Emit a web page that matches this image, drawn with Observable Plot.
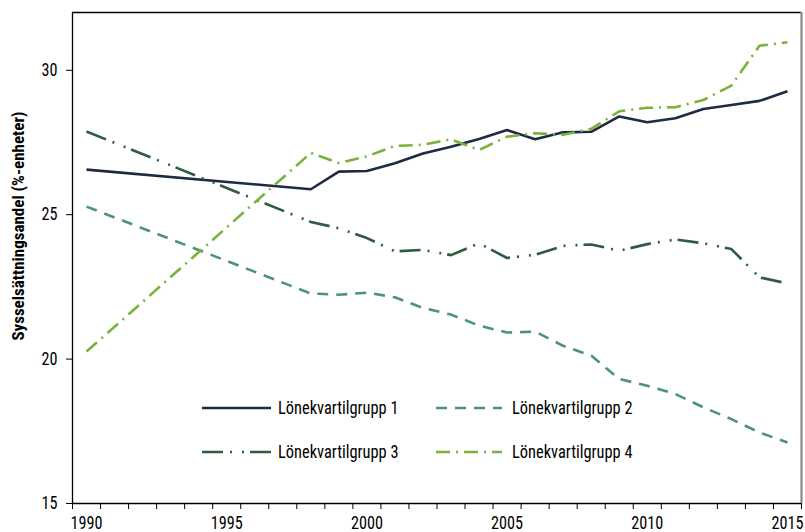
<!DOCTYPE html>
<html>
<head>
<meta charset="utf-8">
<script src="https://cdn.jsdelivr.net/npm/d3@7"></script>
<script src="https://cdn.jsdelivr.net/npm/@observablehq/plot@0.6"></script>
<style>
  html, body { margin: 0; padding: 0; background: #fff; }
  #wrap { position: relative; width: 805px; height: 532px; }
  #wrap svg { position: absolute; left: 0; top: 0; }
</style>
</head>
<body>
<div id="wrap"></div>
<script>
const years = [1990, 1998, 1999, 2000, 2001, 2002, 2003, 2004, 2005, 2006, 2007, 2008, 2009, 2010, 2011, 2012, 2013, 2014, 2015];
const g1 = [26.56, 25.88, 26.49, 26.51, 26.78, 27.12, 27.35, 27.62, 27.93, 27.61, 27.85, 27.87, 28.40, 28.20, 28.34, 28.66, 28.80, 28.94, 29.27];
const g2 = [25.28, 22.27, 22.23, 22.30, 22.14, 21.77, 21.54, 21.16, 20.92, 20.95, 20.46, 20.12, 19.31, 19.08, 18.79, 18.33, 17.92, 17.46, 17.11];
const g3 = [27.88, 24.75, 24.53, 24.19, 23.73, 23.78, 23.60, 24.01, 23.50, 23.61, 23.92, 23.97, 23.75, 23.98, 24.14, 24.01, 23.81, 22.83, 22.62];
const g4 = [20.26, 27.14, 26.79, 27.02, 27.38, 27.42, 27.61, 27.24, 27.70, 27.82, 27.77, 27.97, 28.58, 28.70, 28.72, 28.97, 29.47, 30.85, 30.97];
const groupNames = ["Lönekvartilgrupp 1", "Lönekvartilgrupp 2", "Lönekvartilgrupp 3", "Lönekvartilgrupp 4"];
const xTickLabels = [1990, 1995, 2000, 2005, 2010, 2015];
const yTickLabels = [15, 20, 25, 30];
const yTitle = "Sysselsättningsandel (%-enheter)";

const colors = ["#1e2a44", "#4d9374", "#2f5b3e", "#79b33a"];
const dashes = [null, "11,8", "21,7,2,10,2,6", "14,6,2,6"];
const series = [g1, g2, g3, g4];

const FONT = '"Roboto Condensed", "Liberation Sans Narrow", "DejaVu Sans Condensed", sans-serif';

const data = [];
series.forEach((vals, gi) => vals.forEach((v, i) => data.push({year: years[i], value: v, group: groupNames[gi]})));

const firstYear = xTickLabels[0], lastYear = xTickLabels[xTickLabels.length - 1];
const bandEdges = d3.range(firstYear - 0.5, lastYear + 1, 1);

const lineMarks = groupNames.map((name, gi) =>
  Plot.line(data.filter(d => d.group === name), {
    x: "year", y: "value",
    stroke: colors[gi], strokeWidth: 2.6,
    strokeDasharray: dashes[gi] || undefined,
    strokeLinejoin: "miter", strokeLinecap: "butt"
  })
);

const chart = Plot.plot({
  width: 805, height: 532,
  marginLeft: 72, marginRight: 4, marginTop: 12, marginBottom: 29,
  x: {domain: [firstYear - 0.5, lastYear + 0.5], axis: null},
  y: {domain: [15, 32], axis: null},
  style: {fontFamily: FONT, fontSize: "18px", color: "#000", background: "#fff", overflow: "visible"},
  marks: [
    Plot.axisX(bandEdges, {tickSize: 6, tickFormat: () => "", label: null, stroke: "#000"}),
    Plot.axisX(xTickLabels, {tickSize: 0, tickPadding: 13, tickFormat: d => String(d), label: null, fontSize: 18}),
    Plot.axisY(yTickLabels, {tickSize: 6, tickPadding: 9, label: null, fontSize: 18, stroke: "#000"}),
    ...lineMarks,
    Plot.ruleY([15, 32], {stroke: "#000", strokeWidth: 1.3}),
    Plot.ruleX([firstYear - 0.5], {stroke: "#000", strokeWidth: 1.3}),
    Plot.ruleX([lastYear + 0.5], {stroke: "#8a8a8a", strokeWidth: 2.2})
  ]
});

const wrap = document.getElementById("wrap");
wrap.appendChild(chart);

// narrow the condensed font slightly to match the reference typeface
function compress(sel, k) {
  sel.each(function () {
    const w = this.getComputedTextLength();
    if (w > 0) {
      this.setAttribute("textLength", (w * k).toFixed(1));
      this.setAttribute("lengthAdjust", "spacingAndGlyphs");
    }
  });
}
compress(d3.select(chart).selectAll("text"), 0.9);

// y-axis title
d3.select(chart).append("text")
  .attr("transform", "translate(18,226) rotate(-90)")
  .attr("text-anchor", "middle")
  .attr("dy", "0.35em")
  .style("font-family", FONT)
  .style("font-size", "17px")
  .style("font-weight", "bold")
  .attr("fill", "#000")
  .text(yTitle);

// legend
const legendCols = [{lx1: 202, lx2: 271, tx: 278}, {lx1: 436, lx2: 502, tx: 512}];
const legendRows = [408, 452];
const leg = d3.select(wrap).append("svg")
  .attr("width", 805).attr("height", 532)
  .style("pointer-events", "none");
groupNames.forEach((name, gi) => {
  const c = legendCols[gi % 2], y = legendRows[Math.floor(gi / 2)];
  leg.append("line")
    .attr("x1", c.lx1).attr("x2", c.lx2).attr("y1", y).attr("y2", y)
    .attr("stroke", colors[gi]).attr("stroke-width", 2.6)
    .attr("stroke-dasharray", dashes[gi]);
  leg.append("text")
    .attr("x", c.tx).attr("y", y).attr("dy", "0.36em")
    .style("font-family", FONT).style("font-size", "18px")
    .attr("fill", "#000")
    .text(name);
});
compress(leg.selectAll("text"), 0.91);
</script>
</body>
</html>
